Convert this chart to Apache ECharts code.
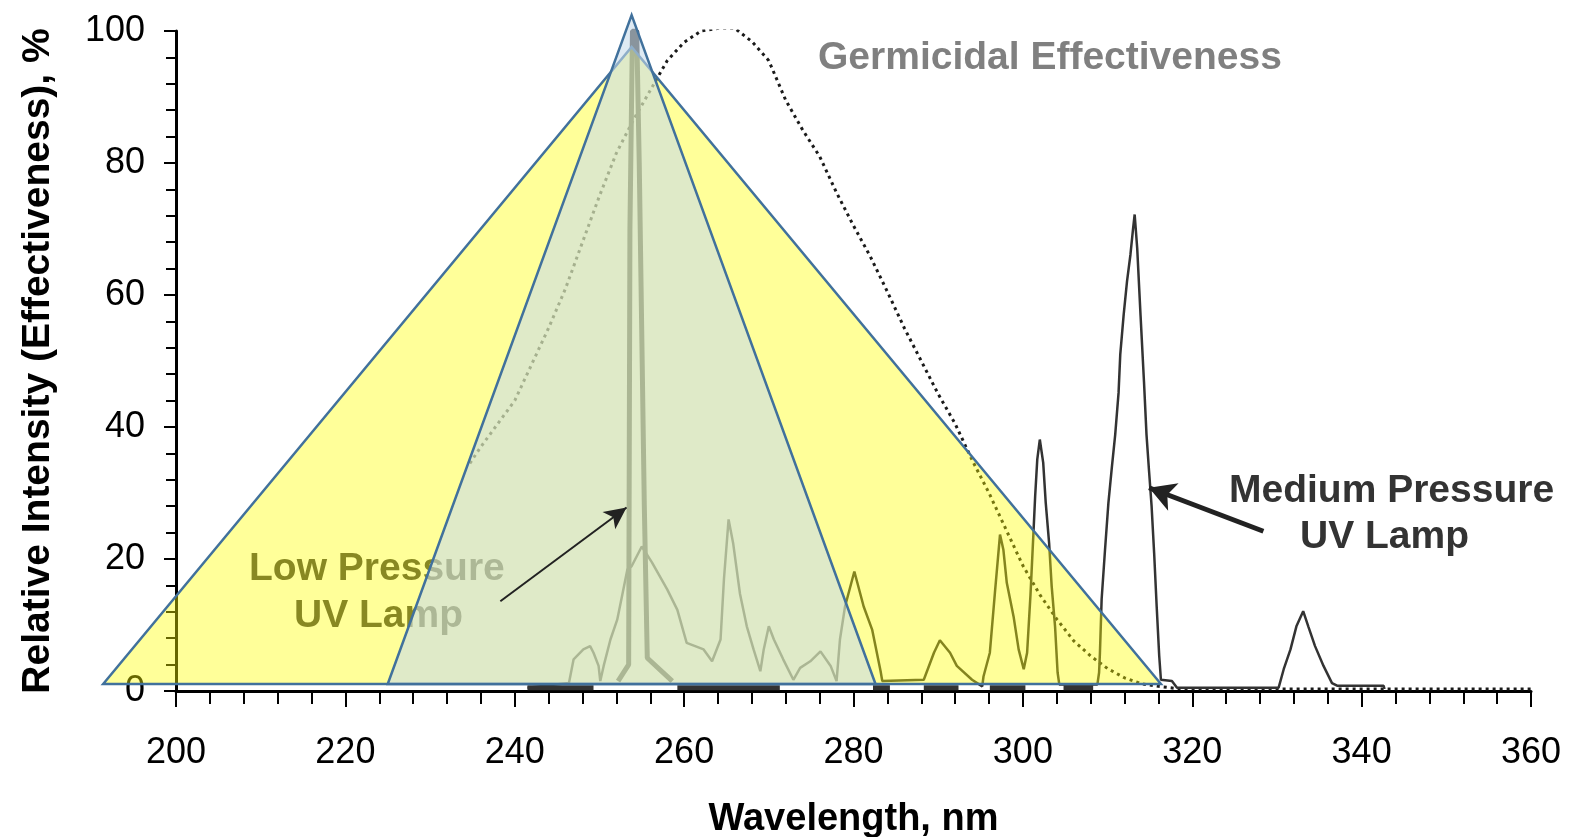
<!DOCTYPE html>
<html>
<head>
<meta charset="utf-8">
<title>UV lamp output vs germicidal effectiveness</title>
<script src="https://cdn.jsdelivr.net/npm/echarts@6/dist/echarts.min.js"></script>
<style>
  html, body { margin: 0; padding: 0; background: #fff; }
  #chart { width: 1574px; height: 837px; }
</style>
</head>
<body>
<div id="chart"></div>
<script>
// axis ranges / tick steps
const xRange = [200, 360, 20];
const yRange = [0, 100, 20];

// germicidal effectiveness curve [nm, %]
const germicidal = [
  [234.7, 34.5], [236, 37], [238, 40.5], [240, 44], [242, 49.5], [244, 55], [246, 61],
  [248, 68], [250, 75], [252, 81.5], [254, 86.5], [256, 91], [258, 95.5], [260, 98.3],
  [262, 100], [264, 100.4], [266, 100.4], [268, 98.4], [270, 95.5], [272, 89.5],
  [274, 85], [276, 81], [278, 75.5], [280, 70.5], [282, 65.8], [284, 60.5], [286, 55],
  [288, 50], [290, 45], [292, 40.5], [294, 35], [296, 30], [298, 24.5], [300, 19],
  [302, 14.6], [304, 10.9], [306, 7.6], [308, 5.3], [310, 3.4], [312, 2.0], [314, 1.1],
  [316, 0.7], [318, 0.4], [320, 0.3], [360, 0.3]
];

// medium pressure lamp spectrum [nm, %]
const mediumPressure = [
  [241.5, 0.5], [246.4, 1.2], [246.95, 4.8], [248.1, 6.3], [248.9, 6.8], [249.3, 5.8],
  [249.9, 3.8], [250.1, 1.5], [250.5, 3.8], [251.3, 7.8], [252.1, 10.8], [252.7, 14.6],
  [253.3, 18.4], [253.8, 18.9], [255.0, 21.9], [256.2, 19.5], [258.0, 15.4], [259.2, 12.3],
  [260.3, 7.3], [262.3, 6.3], [263.3, 4.5], [264.3, 7.8], [264.7, 16.9], [265.25, 26.0],
  [265.8, 22.3], [266.6, 14.7], [267.4, 9.8], [268.2, 6.3], [269.0, 3.0], [269.4, 6.3],
  [270.0, 9.8], [270.6, 7.8], [271.7, 4.8], [272.9, 1.7], [273.7, 3.5], [274.9, 4.5],
  [276.1, 6.0], [277.3, 3.8], [278.0, 1.5], [278.4, 7.8], [279.0, 12.8], [280.1, 18.1],
  [281.2, 12.8], [282.2, 9.3], [283.2, 3.0], [283.4, 1.5], [288.3, 1.7], [289.5, 5.8],
  [290.2, 7.7], [291.4, 5.8], [292.2, 3.8], [294.0, 1.7], [295.2, 0.7], [295.35, 2.2],
  [296.1, 5.8], [296.7, 14.9], [297.3, 23.7], [297.7, 21.4], [298.1, 16.4], [298.9, 11.3],
  [299.5, 6.3], [300.1, 3.3], [300.5, 5.8], [300.9, 14.6], [301.25, 24.0], [301.45, 29.5],
  [301.7, 35.1], [302.0, 38.1], [302.4, 34.6], [302.7, 28.5], [303.1, 22.4], [303.4, 15.9],
  [303.8, 9.8], [304.1, 2.8], [304.3, 1.0], [308.8, 1.0], [309.0, 2.8], [309.1, 5.8],
  [309.3, 13.9], [309.7, 21.4], [310.1, 28.5], [310.5, 33.8], [310.9, 38.8], [311.3, 45.2],
  [311.5, 51.0], [311.9, 57.0], [312.3, 62.1], [312.7, 66.1], [313.0, 69.9], [313.2, 72.2],
  [313.5, 67.1], [313.9, 56.8], [314.3, 46.9], [314.6, 38.8], [314.9, 33.3], [315.2, 28.0],
  [315.5, 20.9], [315.8, 12.8], [316.1, 5.3], [316.3, 1.7], [317.6, 1.5], [318.2, 0.5],
  [330.2, 0.5], [330.8, 3.3], [331.6, 6.3], [332.3, 9.8], [333.1, 12.1], [333.7, 9.8],
  [334.5, 6.8], [335.5, 3.8], [336.5, 1.2], [337.1, 0.8], [342.6, 0.8], [342.7, 0.3]
];

// low pressure lamp spectrum [nm, %] (gaps where nothing is drawn)
const lowPressure = [
  [241.5, 0.5], [249.3, 0.5], [249.3, null],
  [252.2, 1.5], [253.45, 4], [253.6, 70], [253.9, 100], [254.4, 100], [254.7, 80],
  [255.3, 28], [255.65, 5], [258.6, 1.5], [258.6, null],
  [259.2, 0.5], [271.3, 0.5], [271.3, null],
  [282.3, 0.5], [284.3, 0.5], [284.3, null],
  [288.3, 0.5], [292.4, 0.5], [292.4, null],
  [296.1, 0.5], [300.3, 0.5], [300.3, null],
  [304.8, 0.5], [308.3, 0.5]
];

// overlay triangles: [nm, %] vertices
const wideTriangle = [[191.4, 1.06], [253.8, 97.6], [316.3, 1.06]];
const narrowTriangle = [[225.0, 1.06], [253.8, 102.4], [282.6, 1.06]];

// annotation arrows: [tail, head] in [nm, %]
const lowArrow = [[238.3, 13.6], [253.2, 27.8]];
const mediumArrow = [[328.4, 24.2], [314.9, 30.8]];

const FONT = '"Liberation Sans", Arial, sans-serif';

function triangleSeries(tri, fill, z) {
  return {
    type: 'custom',
    z: z,
    clip: false,
    silent: true,
    data: [tri.flat()],
    renderItem: function (params, api) {
      const pts = [0, 1, 2].map(i => api.coord([api.value(i * 2), api.value(i * 2 + 1)]));
      return {
        type: 'polygon',
        shape: { points: pts },
        style: { fill: fill, stroke: '#41719C', lineWidth: 2.5, lineJoin: 'miter' }
      };
    }
  };
}

function arrowMark(arrow, width, head) {
  return {
    silent: true,
    symbol: ['none', 'arrow'],
    symbolSize: head,
    label: { show: false },
    lineStyle: { color: '#222', width: width, type: 'solid' },
    emphasis: { disabled: true },
    data: [[{ coord: arrow[0] }, { coord: arrow[1] }]]
  };
}

const chart = echarts.init(document.getElementById('chart'));

chart.setOption({
  animation: false,
  backgroundColor: '#fff',
  grid: { left: 176, right: 43, top: 31, bottom: 146, outerBoundsMode: 'none', containLabel: false },
  xAxis: {
    type: 'value',
    min: xRange[0], max: xRange[1], interval: xRange[2],
    name: 'Wavelength, nm',
    nameLocation: 'middle',
    nameGap: 110,
    nameTextStyle: { fontFamily: FONT, fontWeight: 'bold', fontSize: 38, color: '#000' },
    axisLine: { show: true, lineStyle: { color: '#000', width: 3 } },
    axisTick: { show: true, length: 16, lineStyle: { color: '#000', width: 2 } },
    minorTick: { show: true, splitNumber: 5, length: 13, lineStyle: { color: '#000', width: 2 } },
    axisLabel: { fontFamily: FONT, fontSize: 36, color: '#000', margin: 44 },
    splitLine: { show: false }
  },
  yAxis: {
    type: 'value',
    min: yRange[0], max: yRange[1], interval: yRange[2],
    name: 'Relative Intensity (Effectiveness), %',
    nameLocation: 'middle',
    nameGap: 118,
    nameTextStyle: { fontFamily: FONT, fontWeight: 'bold', fontSize: 39, color: '#000' },
    axisLine: { show: true, lineStyle: { color: '#000', width: 3 } },
    axisTick: { show: true, length: 12, lineStyle: { color: '#000', width: 2 } },
    minorTick: { show: true, splitNumber: 5, length: 10, lineStyle: { color: '#000', width: 2 } },
    axisLabel: { fontFamily: FONT, fontSize: 36, color: '#000', margin: 31 },
    splitLine: { show: false }
  },
  graphic: [
    { type: 'text', x: 249, y: 569, z: 1,
      style: { text: 'Low Pressure', font: 'bold 39px ' + FONT, fill: '#3a3a3a', verticalAlign: 'middle' } },
    { type: 'text', x: 294, y: 616, z: 1,
      style: { text: 'UV Lamp', font: 'bold 39px ' + FONT, fill: '#3a3a3a', verticalAlign: 'middle' } },
    { type: 'text', x: 818, y: 58, z: 100,
      style: { text: 'Germicidal Effectiveness', font: 'bold 39px ' + FONT, fill: '#808080', verticalAlign: 'middle' } },
    { type: 'text', x: 1229, y: 491, z: 100,
      style: { text: 'Medium Pressure', font: 'bold 39px ' + FONT, fill: '#333', verticalAlign: 'middle' } },
    { type: 'text', x: 1300, y: 537, z: 100,
      style: { text: 'UV Lamp', font: 'bold 39px ' + FONT, fill: '#333', verticalAlign: 'middle' } }
  ],
  series: [
    {
      name: 'Germicidal Effectiveness',
      type: 'line',
      z: 2,
      symbol: 'none',
      silent: true,
      data: germicidal,
      lineStyle: { color: '#1a1a1a', width: 3, type: [3, 4] }
    },
    {
      name: 'Medium Pressure UV Lamp',
      type: 'line',
      z: 2,
      symbol: 'none',
      silent: true,
      data: mediumPressure,
      lineStyle: { color: '#333', width: 2.5 },
      markLine: arrowMark(mediumArrow, 5, [22, 26])
    },
    {
      name: 'Low Pressure UV Lamp',
      type: 'line',
      z: 2,
      symbol: 'none',
      silent: true,
      connectNulls: false,
      data: lowPressure,
      lineStyle: { color: '#333', width: 5 },
      markLine: arrowMark(lowArrow, 2, [16, 22])
    },
    triangleSeries(wideTriangle, 'rgba(255,255,0,0.4)', 3),
    triangleSeries(narrowTriangle, 'rgba(200,219,234,0.58)', 4)
  ]
});
</script>
</body>
</html>
